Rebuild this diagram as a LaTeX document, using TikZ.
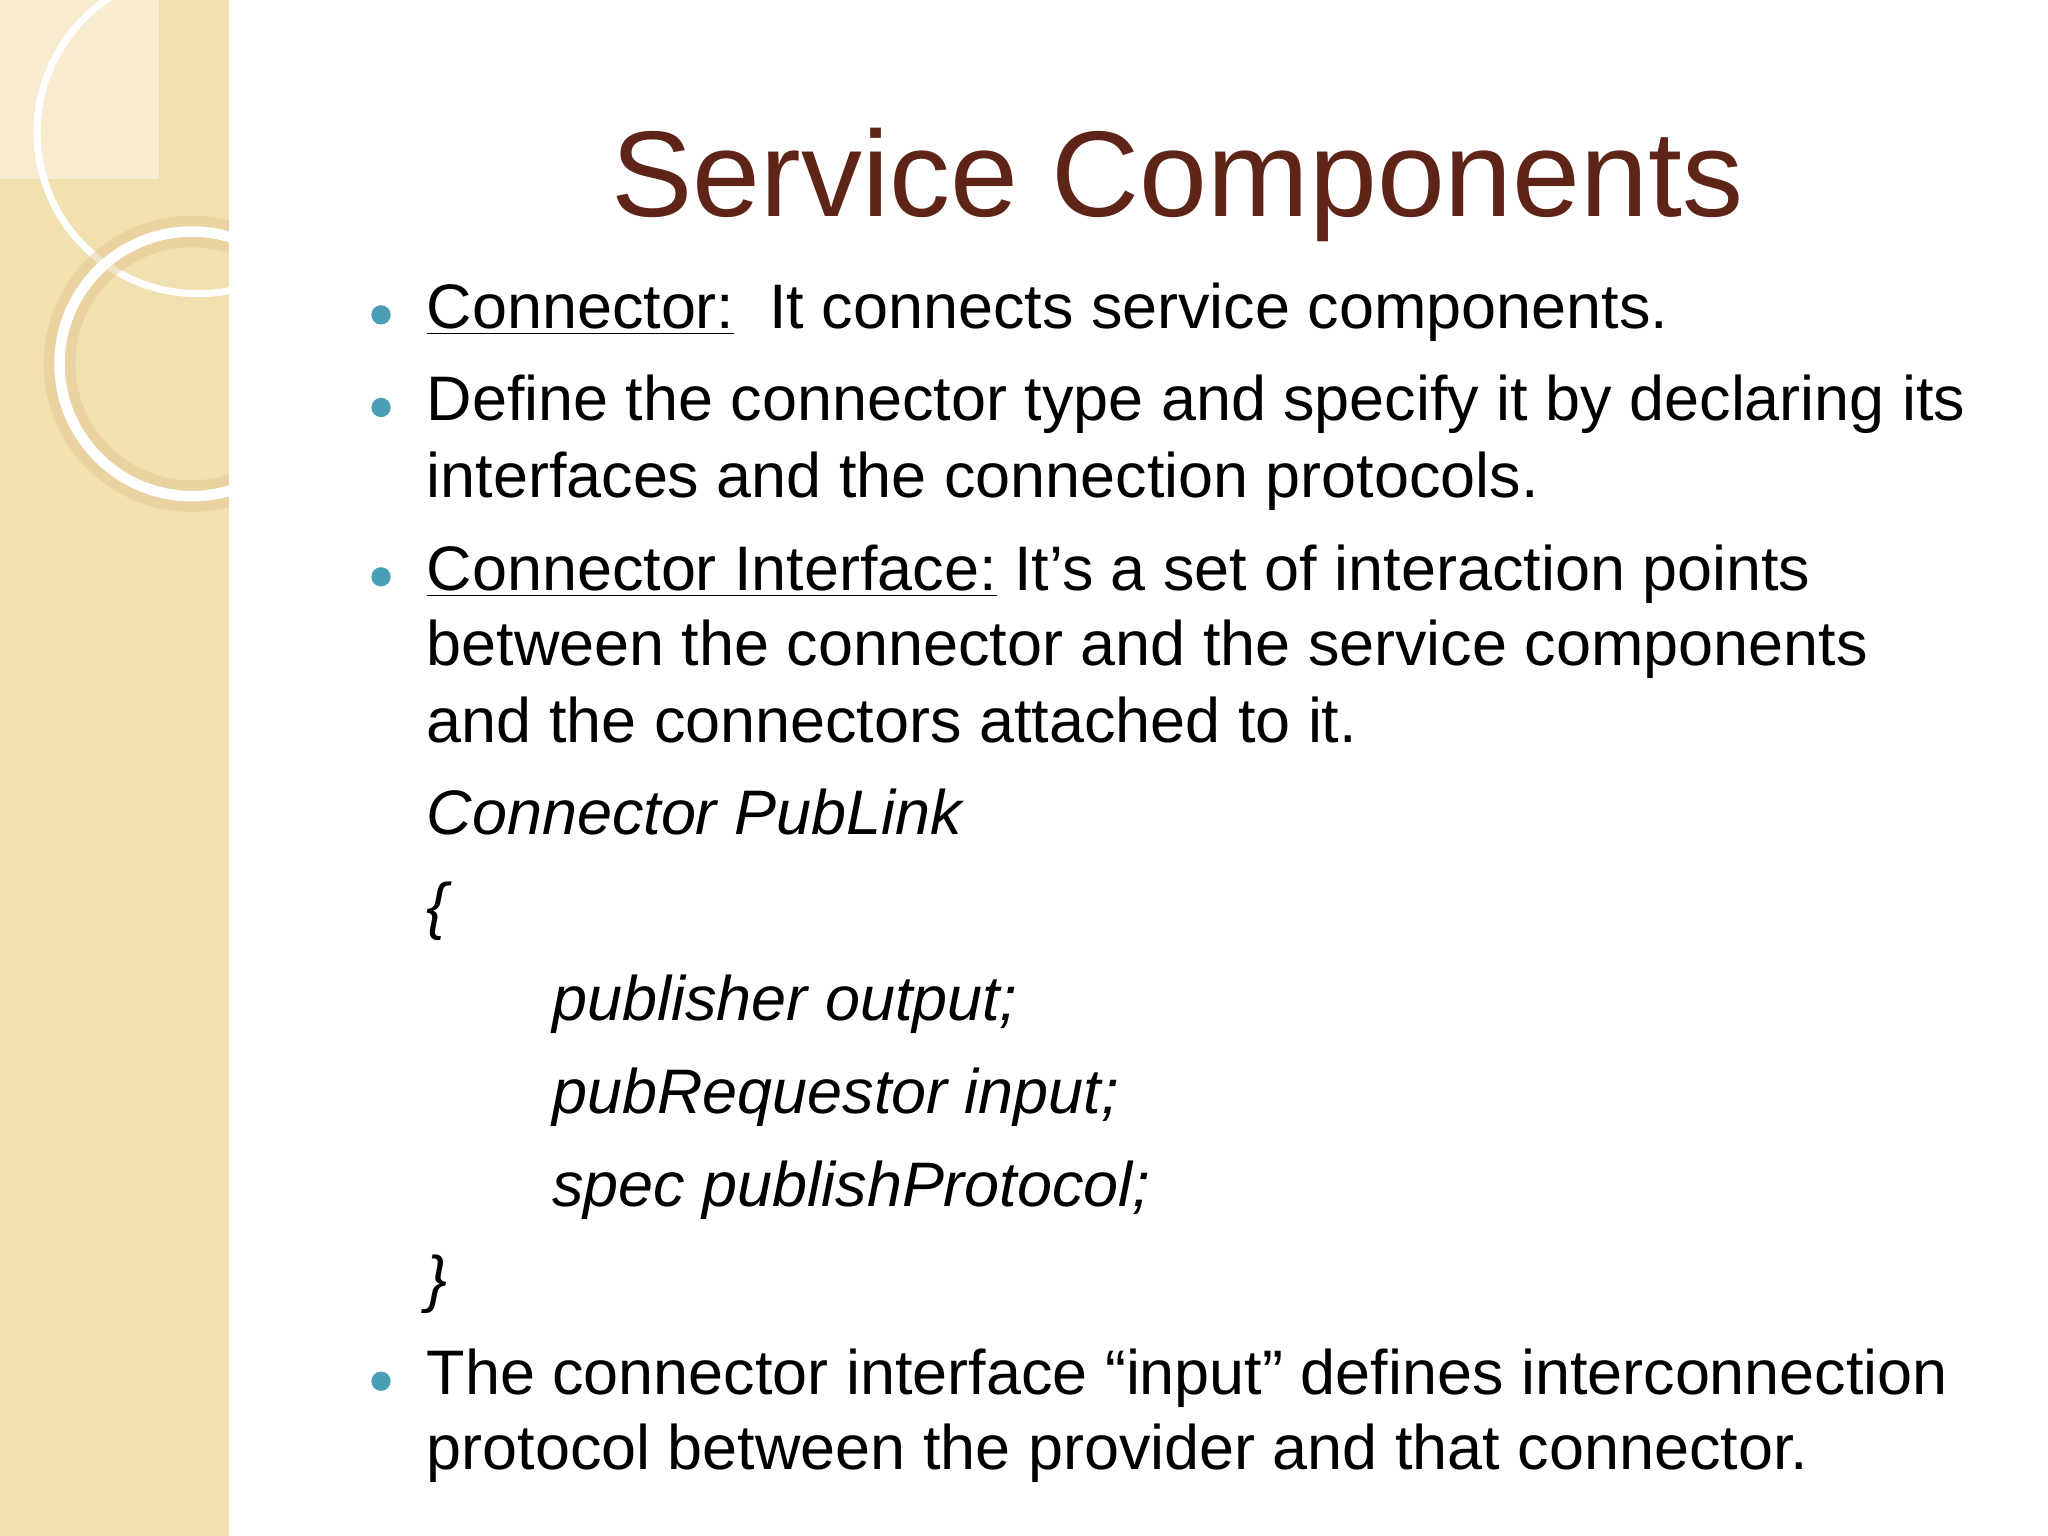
\documentclass[tikz,border=0pt]{standalone}
\usepackage{fontspec}
\setmainfont{Liberation Sans}
\definecolor{ttl}{HTML}{5E2417}
\definecolor{band}{HTML}{F1E0B0}
\definecolor{bul}{HTML}{4A9FB5}
\tikzset{ln/.style={anchor=base west,inner sep=0,font=\fontsize{17.9}{22}\selectfont},
 it/.style={ln,font=\fontsize{17.9}{22}\selectfont\itshape},
 bl/.style={circle,fill=bul,inner sep=0,minimum size=5.5pt}}
\begin{document}
\begin{tikzpicture}[x={(0.01323cm,0)},y={(0,-0.01323cm)}]
\useasboundingbox (0,0) rectangle (1548,1161);
\fill[white] (0,0) rectangle (1548,1161);
\fill[band] (0,0) rectangle (173,1161);
\fill[band!60!white] (0,0) rectangle (120,135);
\begin{scope}
\clip (0,0) rectangle (173,1161);
\draw[white,line width=2pt] (150,100) circle (122);
\draw[band!75!brown,line width=9pt,opacity=.5] (145,275) circle (100);
\draw[white,line width=3pt] (145,275) circle (100);
\end{scope}
\node[ttl,font=\fontsize{34.7}{42}\selectfont] (title) at (890,140) {Service Components};
\node[ln] (l1) at (322,248) {\underline{Connector:}\ \ It connects service components.};
\node[ln] (l2) at (322,318) {Define the connector type and specify it by declaring its};
\node[ln] (l3) at (322,376) {interfaces and the connection protocols.};
\node[ln] (l4) at (322,446) {\underline{Connector Interface:} It’s a set of interaction points};
\node[ln] (l5) at (322,503) {between the connector and the service components};
\node[ln] (l6) at (322,561) {and the connectors attached to it.};
\node[it] (l7) at (322,631) {Connector PubLink};
\node[it] (l8) at (322,701) {\{};
\node[it] (l9) at (417,771) {publisher output;};
\node[it] (l10) at (417,842) {pubRequestor input;};
\node[it] (l11) at (417,912) {spec publishProtocol;};
\node[it] (l12) at (322,983) {\}};
\node[ln] (l13) at (322,1054) {The connector interface “input” defines interconnection};
\node[ln] (l14) at (322,1111) {protocol between the provider and that connector.};
\node[bl] (b1) at (288,238) {};
\node[bl] (b2) at (288,308) {};
\node[bl] (b3) at (288,436) {};
\node[bl] (b4) at (288,1044) {};
\end{tikzpicture}
\end{document}
